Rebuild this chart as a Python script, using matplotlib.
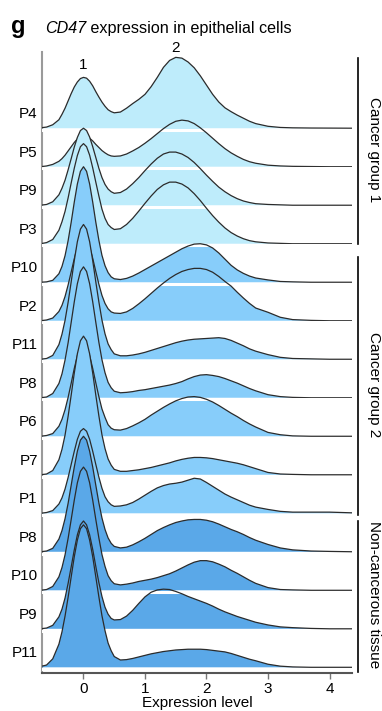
import matplotlib
matplotlib.use("Agg")
import matplotlib.pyplot as plt
import numpy as np

plt.rcParams["font.family"] = ["Liberation Sans", "DejaVu Sans"]

# -----------------------------
# DATA (density heights, in row units)
# -----------------------------
x_grid = [-0.7, -0.6, -0.5, -0.4, -0.35, -0.3, -0.25, -0.2, -0.15, -0.1, -0.05, 0.0,
          0.05, 0.1, 0.15, 0.2, 0.25, 0.3, 0.35, 0.4, 0.45, 0.5,
          0.6, 0.7, 0.8, 0.9, 1.0, 1.1, 1.2, 1.3, 1.4, 1.5, 1.6, 1.7, 1.8, 1.9, 2.0,
          2.1, 2.2, 2.3, 2.4, 2.5, 2.6, 2.7, 2.8, 3.0, 3.2, 3.4, 3.7, 4.0, 4.4]

dens_p4 = [0.01, 0.03, 0.09, 0.22, 0.36, 0.52, 0.71, 0.90, 1.07, 1.20, 1.29, 1.32,
           1.30, 1.22, 1.10, 0.95, 0.81, 0.68, 0.57, 0.48, 0.43, 0.40,
           0.42, 0.52, 0.64, 0.75, 0.88, 1.08, 1.32, 1.58, 1.76, 1.84, 1.82, 1.72, 1.57,
           1.36, 1.12, 0.88, 0.68, 0.53, 0.43, 0.34, 0.26, 0.18, 0.12, 0.05, 0.02, 0.01,
           0.005, 0.003, 0.0]
dens_p5 = [0.0, 0.02, 0.06, 0.14, 0.21, 0.30, 0.41, 0.52, 0.63, 0.72, 0.78, 0.80,
           0.78, 0.74, 0.67, 0.58, 0.50, 0.42, 0.36, 0.31, 0.28, 0.27,
           0.28, 0.33, 0.41, 0.50, 0.61, 0.73, 0.86, 0.99, 1.10, 1.18, 1.21, 1.19, 1.12,
           1.01, 0.88, 0.74, 0.60, 0.47, 0.36, 0.27, 0.19, 0.13, 0.09, 0.04, 0.02, 0.01,
           0.005, 0.0, 0.0]
dens_p9 = [0.0, 0.02, 0.09, 0.27, 0.44, 0.65, 0.92, 1.21, 1.51, 1.76, 1.94, 2.00,
           1.94, 1.77, 1.52, 1.24, 0.96, 0.72, 0.54, 0.42, 0.35, 0.31,
           0.33, 0.42, 0.56, 0.72, 0.90, 1.07, 1.22, 1.33, 1.38, 1.38, 1.33, 1.24, 1.11,
           0.95, 0.78, 0.62, 0.47, 0.35, 0.25, 0.17, 0.11, 0.07, 0.04, 0.02, 0.01, 0.0,
           0.0, 0.0, 0.0]
dens_p3 = [0.0, 0.03, 0.11, 0.35, 0.57, 0.84, 1.19, 1.58, 1.96, 2.29, 2.52, 2.60,
           2.52, 2.30, 1.97, 1.60, 1.24, 0.90, 0.66, 0.50, 0.42, 0.37,
           0.39, 0.50, 0.66, 0.85, 1.05, 1.24, 1.41, 1.53, 1.60, 1.60, 1.55, 1.45, 1.30,
           1.12, 0.92, 0.73, 0.56, 0.41, 0.29, 0.20, 0.13, 0.08, 0.05, 0.02, 0.01, 0.0,
           0.0, 0.0, 0.0]
dens_p10 = [0.0, 0.01, 0.05, 0.22, 0.41, 0.69, 1.08, 1.56, 2.08, 2.55, 2.88, 3.00,
            2.88, 2.55, 2.08, 1.56, 1.09, 0.70, 0.43, 0.25, 0.14, 0.09,
            0.07, 0.10, 0.16, 0.24, 0.33, 0.42, 0.51, 0.60, 0.69, 0.78, 0.87, 0.94, 0.99,
            1.00, 0.97, 0.89, 0.76, 0.60, 0.44, 0.32, 0.23, 0.16, 0.11, 0.06, 0.02, 0.01,
            0.0, 0.0, 0.0]
dens_p2 = [0.0, 0.02, 0.07, 0.24, 0.40, 0.63, 0.93, 1.27, 1.61, 1.92, 2.13, 2.20,
           2.13, 1.92, 1.62, 1.28, 0.95, 0.66, 0.45, 0.31, 0.23, 0.20,
           0.19, 0.23, 0.32, 0.44, 0.57, 0.71, 0.85, 0.98, 1.10, 1.20, 1.28, 1.33, 1.36,
           1.36, 1.33, 1.26, 1.15, 1.02, 0.90, 0.74, 0.59, 0.45, 0.33, 0.22, 0.09, 0.03,
           0.01, 0.0, 0.0]
dens_p11 = [0.0, 0.02, 0.10, 0.38, 0.65, 1.01, 1.48, 2.01, 2.56, 3.05, 3.38, 3.50,
            3.38, 3.05, 2.56, 2.01, 1.49, 1.02, 0.66, 0.40, 0.25, 0.14,
            0.09, 0.09, 0.11, 0.14, 0.18, 0.23, 0.28, 0.33, 0.38, 0.43, 0.47, 0.50, 0.52,
            0.53, 0.54, 0.55, 0.56, 0.54, 0.49, 0.42, 0.35, 0.27, 0.21, 0.12, 0.05, 0.02,
            0.01, 0.0, 0.0]
dens_p8 = [0.0, 0.02, 0.11, 0.37, 0.62, 0.98, 1.43, 1.96, 2.49, 2.96, 3.28, 3.40,
           3.28, 2.96, 2.49, 1.96, 1.44, 0.99, 0.65, 0.40, 0.26, 0.17,
           0.13, 0.14, 0.16, 0.19, 0.21, 0.24, 0.27, 0.30, 0.33, 0.37, 0.42, 0.49, 0.55,
           0.59, 0.60, 0.58, 0.55, 0.50, 0.44, 0.38, 0.31, 0.24, 0.18, 0.08, 0.03, 0.01,
           0.0, 0.0, 0.0]
dens_p6 = [0.0, 0.02, 0.07, 0.26, 0.44, 0.69, 1.01, 1.38, 1.76, 2.09, 2.32, 2.40,
           2.32, 2.09, 1.76, 1.39, 1.03, 0.71, 0.49, 0.30, 0.21, 0.17,
           0.16, 0.20, 0.27, 0.35, 0.44, 0.55, 0.65, 0.75, 0.84, 0.92, 0.98, 1.02, 1.03,
           1.01, 0.96, 0.89, 0.80, 0.70, 0.60, 0.51, 0.41, 0.32, 0.24, 0.10, 0.04, 0.01,
           0.0, 0.0, 0.0]
dens_p7 = [0.0, 0.02, 0.11, 0.39, 0.66, 1.03, 1.52, 2.07, 2.64, 3.14, 3.48, 3.60,
           3.48, 3.14, 2.64, 2.07, 1.53, 1.04, 0.68, 0.41, 0.25, 0.14,
           0.09, 0.09, 0.11, 0.13, 0.16, 0.19, 0.23, 0.27, 0.31, 0.36, 0.40, 0.43, 0.45,
           0.45, 0.44, 0.42, 0.39, 0.36, 0.33, 0.30, 0.26, 0.21, 0.16, 0.06, 0.02, 0.01,
           0.0, 0.0, 0.0]
dens_p1 = [0.0, 0.02, 0.07, 0.24, 0.40, 0.63, 0.93, 1.27, 1.61, 1.92, 2.13, 2.20,
           2.13, 1.92, 1.61, 1.27, 0.94, 0.65, 0.43, 0.30, 0.22, 0.18,
           0.19, 0.22, 0.28, 0.37, 0.47, 0.57, 0.66, 0.72, 0.76, 0.78, 0.81, 0.86, 0.91,
           0.89, 0.80, 0.70, 0.60, 0.50, 0.42, 0.35, 0.28, 0.21, 0.16, 0.10, 0.05, 0.03,
           0.03, 0.03, 0.01]
dens_p8_nc = [0.0, 0.02, 0.09, 0.33, 0.55, 0.86, 1.26, 1.73, 2.20, 2.61, 2.90, 3.00,
              2.90, 2.61, 2.20, 1.73, 1.27, 0.88, 0.58, 0.36, 0.22, 0.14,
              0.10, 0.12, 0.18, 0.26, 0.35, 0.45, 0.55, 0.63, 0.70, 0.76, 0.80, 0.83, 0.84,
              0.84, 0.82, 0.78, 0.72, 0.65, 0.58, 0.52, 0.45, 0.37, 0.30, 0.19, 0.10, 0.05,
              0.02, 0.01, 0.0]
dens_p10_nc = [0.0, 0.02, 0.10, 0.35, 0.59, 0.92, 1.35, 1.84, 2.34, 2.79, 3.09, 3.20,
               3.09, 2.79, 2.34, 1.84, 1.36, 0.93, 0.62, 0.38, 0.25, 0.17,
               0.14, 0.16, 0.19, 0.23, 0.26, 0.29, 0.33, 0.38, 0.43, 0.50, 0.58, 0.66, 0.73,
               0.77, 0.77, 0.74, 0.68, 0.61, 0.52, 0.44, 0.35, 0.26, 0.18, 0.07, 0.02, 0.01,
               0.0, 0.0, 0.0]
dens_p9_nc = [0.0, 0.02, 0.09, 0.31, 0.51, 0.80, 1.18, 1.61, 2.05, 2.44, 2.70, 2.80,
              2.70, 2.44, 2.06, 1.62, 1.20, 0.84, 0.56, 0.38, 0.27, 0.23,
              0.24, 0.33, 0.48, 0.66, 0.83, 0.95, 1.01, 1.03, 1.02, 0.97, 0.91, 0.84, 0.78,
              0.72, 0.66, 0.59, 0.51, 0.44, 0.38, 0.32, 0.27, 0.22, 0.17, 0.10, 0.05, 0.03,
              0.01, 0.0, 0.0]
dens_p11_nc = [0.02, 0.06, 0.22, 0.60, 0.92, 1.33, 1.82, 2.35, 2.87, 3.30, 3.60, 3.70,
               3.60, 3.30, 2.87, 2.35, 1.83, 1.34, 0.95, 0.63, 0.43, 0.28,
               0.19, 0.20, 0.23, 0.27, 0.31, 0.35, 0.38, 0.41, 0.43, 0.45, 0.46, 0.47, 0.47,
               0.47, 0.46, 0.44, 0.42, 0.40, 0.36, 0.31, 0.26, 0.21, 0.17, 0.08, 0.03, 0.01,
               0.0, 0.0, 0.0]

row_labels = ["P4", "P5", "P9", "P3", "P10", "P2", "P11", "P8", "P6", "P7", "P1",
              "P8", "P10", "P9", "P11"]
row_dens = [dens_p4, dens_p5, dens_p9, dens_p3, dens_p10, dens_p2, dens_p11, dens_p8,
            dens_p6, dens_p7, dens_p1, dens_p8_nc, dens_p10_nc, dens_p9_nc, dens_p11_nc]
row_group = [0, 0, 0, 0, 1, 1, 1, 1, 1, 1, 1, 2, 2, 2, 2]

group_names = ["Cancer group 1", "Cancer group 2", "Non-cancerous tissue"]
group_colors = ["#BEECFB", "#87CDFA", "#5AA8E8"]

x_ticks = [0, 1, 2, 3, 4]

# -----------------------------
# FIGURE
# -----------------------------
fig = plt.figure(figsize=(3.82, 7.11), dpi=100)
ax = fig.add_axes([0.1099, 0.0530, 0.8116, 0.8739])
xlo, xhi = -0.675, 4.366
ax.set_xlim(xlo, xhi)
ax.set_ylim(-0.156, 15.98)

n = len(row_labels)
x = np.array(x_grid)
split = (0.55 - xlo) / (xhi - xlo)   # where the peak at 0 has ended
for i, (lab, d, g) in enumerate(zip(row_labels, row_dens, row_group)):
    base = n - 1 - i
    y = base + np.array(d)
    z = 10 + 3 * i
    ax.fill_between(x, base, y, facecolor=group_colors[g], edgecolor="none", zorder=z)
    ax.plot(x, y, color="#2b2b2b", lw=0.9, zorder=z + 2, solid_joinstyle="round")
    # white gap under each ridge: hidden by the next peaks, but cuts the next hump
    ax.axhline(base - 0.045, xmax=split, color="white", lw=2.2, zorder=z + 0.5)
    ax.axhline(base - 0.045, xmin=split, color="white", lw=2.2, zorder=z + 3.5)

ax.set_yticks([n - 1 - i + 0.4 for i in range(n)])
ax.set_yticklabels(row_labels, fontsize=11)
ax.tick_params(axis="y", length=0, pad=3)
ax.set_xticks(x_ticks)
ax.set_xticklabels([str(t) for t in x_ticks], fontsize=11)
ax.tick_params(axis="x", length=4, width=1, color="#777777", pad=2)
ax.set_xlabel("Expression level", fontsize=11, labelpad=0)

for s in ["top", "right"]:
    ax.spines[s].set_visible(False)
ax.spines["left"].set_color("#9a9a9a")
ax.spines["left"].set_linewidth(1.5)
ax.spines["bottom"].set_color("#555555")
ax.spines["bottom"].set_linewidth(1.5)

# peak labels
ax.text(0, 15.64, "1", fontsize=11, ha="center", va="center", clip_on=False)
ax.text(1.5, 16.09, "2", fontsize=11, ha="center", va="center", clip_on=False)

# group brackets
bracket_spans = [(15.83, 11.0), (10.65, 3.96), (3.80, -0.12)]
label_y = [150, 385, 595]
for (top, bot), name, ly in zip(bracket_spans, group_names, label_y):
    ax.plot([4.463, 4.463], [bot, top], color="black", lw=1.2, clip_on=False)
    fig.text(374 / 382, 1 - ly / 711, name, fontsize=11, rotation=-90,
             ha="center", va="center")

# title
fig.text(0.028, 1 - 33 / 711, "g", fontsize=17, fontweight="bold", va="baseline")
t1 = fig.text(45 / 382, 1 - 33 / 711, "CD47", fontsize=11.6, style="italic", va="baseline")
fig.canvas.draw()
bb = t1.get_window_extent(fig.canvas.get_renderer())
fig.text(bb.x1 / fig.bbox.width, 1 - 33 / 711, " expression in epithelial cells",
         fontsize=11.6, va="baseline")

fig.savefig("out.png", dpi=100)
